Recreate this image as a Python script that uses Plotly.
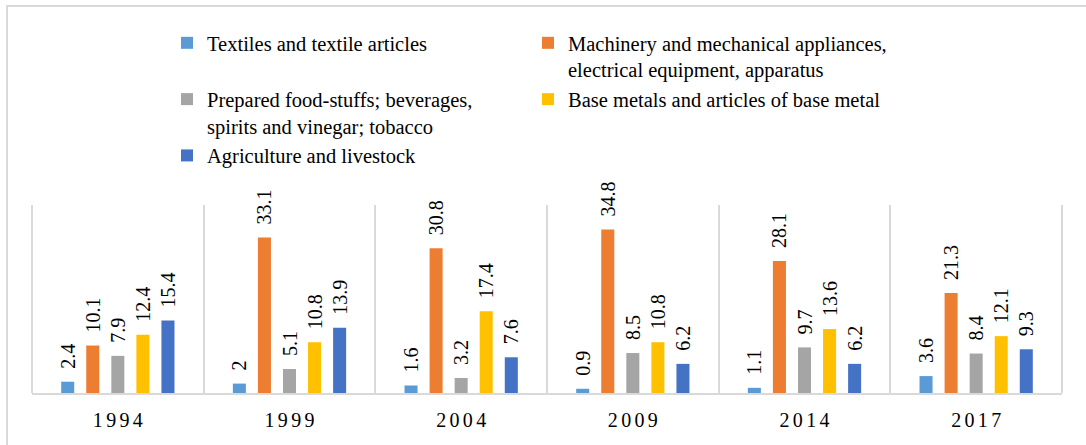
import plotly.graph_objects as go

# Export structure by product group, share in percent
years = ["1994", "1999", "2004", "2009", "2014", "2017"]
year_ticks = ["1\u20069\u20069\u20064", "1\u20069\u20069\u20069", "2\u20060\u20060\u20064",
              "2\u20060\u20060\u20069", "2\u20060\u20061\u20064", "2\u20060\u20061\u20067"]

series_names = [
    "Textiles and textile articles",
    "Machinery and mechanical appliances,<br>electrical equipment, apparatus",
    "Prepared food-stuffs; beverages,<br>spirits and vinegar; tobacco",
    "Base metals and articles of base metal",
    "Agriculture and livestock",
]
textiles = [2.4, 2, 1.6, 0.9, 1.1, 3.6]
machinery = [10.1, 33.1, 30.8, 34.8, 28.1, 21.3]
foodstuffs = [7.9, 5.1, 3.2, 8.5, 9.7, 8.4]
base_metals = [12.4, 10.8, 17.4, 10.8, 13.6, 12.1]
agriculture = [15.4, 13.9, 7.6, 6.2, 6.2, 9.3]

series_values = [textiles, machinery, foodstuffs, base_metals, agriculture]
colors = ["#5B9BD5", "#ED7D31", "#A5A5A5", "#FFC000", "#4472C4"]

FONT = "Liberation Serif, Times New Roman, serif"
W, H = 1086, 445
ML, MR, MT, MB = 32, 24, 205, 52
PW, PH = W - ML - MR, H - MT - MB


def px_x(p):
    return (p - ML) / PW


def px_y(p):
    return (H - MB - p) / PH


fig = go.Figure()
for name, vals, col in zip(series_names, series_values, colors):
    fig.add_trace(go.Bar(
        x=years, y=vals, name=name,
        marker=dict(color=col, line=dict(width=0)),
        text=vals, texttemplate="\u00a0\u00a0%{y}",
        textposition="outside", textangle=-90,
        constraintext="none", cliponaxis=False,
        textfont=dict(family=FONT, size=20, color="#000000"),
    ))

fig.update_layout(
    width=W, height=H,
    margin=dict(l=ML, r=MR, t=MT, b=MB, autoexpand=False),
    paper_bgcolor="white", plot_bgcolor="white",
    barmode="group", bargap=0.27, bargroupgap=0.48,
    font=dict(family=FONT, size=20, color="#000000"),
    showlegend=True,
    legend=dict(
        orientation="h", x=px_x(167), y=px_y(23),
        xanchor="left", yanchor="top",
        entrywidth=316, entrywidthmode="pixels",
        valign="top", traceorder="normal",
        font=dict(family=FONT, size=20.5, color="#000000"),
        bgcolor="rgba(0,0,0,0)",
    ),
    xaxis=dict(
        type="category", tickson="boundaries",
        tickvals=years, ticktext=year_ticks,
        showgrid=True, gridcolor="#D9D9D9", gridwidth=2,
        showline=True, linecolor="#D9D9D9", linewidth=2,
        ticks="", ticklabelstandoff=8,
        tickfont=dict(family=FONT, size=20, color="#000000"),
        zeroline=False,
    ),
    yaxis=dict(
        range=[0, 40], showgrid=False, zeroline=False,
        showticklabels=False, showline=False, ticks="",
    ),
    shapes=[
        dict(type="rect", xref="paper", yref="paper",
             x0=px_x(7), x1=px_x(1092), y0=px_y(452), y1=px_y(6),
             line=dict(color="#D9D9D9", width=2), fillcolor="rgba(0,0,0,0)",
             layer="below"),
        dict(type="line", xref="paper", yref="paper",
             x0=0, x1=0, y0=0, y1=1, line=dict(color="#D9D9D9", width=2)),
        dict(type="line", xref="paper", yref="paper",
             x0=1, x1=1, y0=0, y1=1, line=dict(color="#D9D9D9", width=2)),
    ],
)

fig.write_html("out.html")
